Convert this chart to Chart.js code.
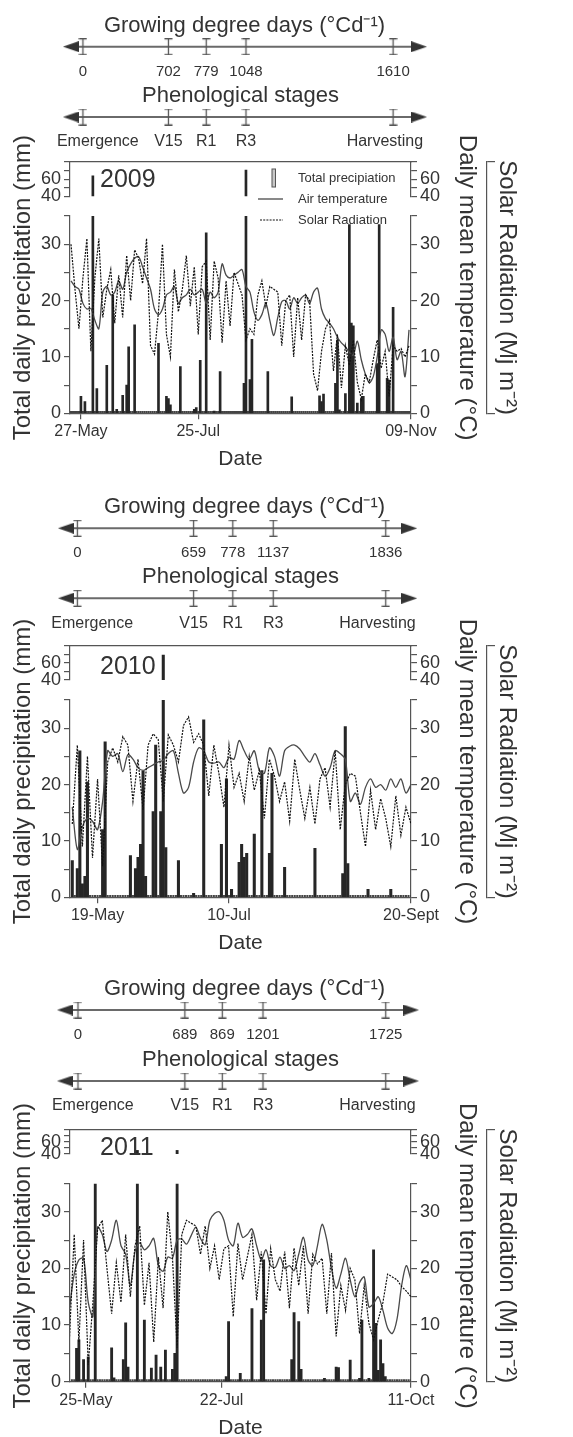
<!DOCTYPE html>
<html>
<head>
<meta charset="utf-8">
<title>Weather and phenology 2009-2011</title>
<script src="https://cdn.jsdelivr.net/npm/chart.js@4.4.1/dist/chart.umd.min.js"></script>
<style>
  html, body { margin: 0; padding: 0; background: #fff; }
  #page { position: relative; width: 573px; height: 1437px; overflow: hidden; background: #fff; }
  #page canvas { position: absolute; left: 0; }
</style>
</head>
<body>
<div id="page"></div>
<script>
// ---- shared text
const stageNames = ['Emergence', 'V15', 'R1', 'R3', 'Harvesting'];
const seriesNames = ['Total precipiation', 'Air temperature', 'Solar Radiation'];

// ---- 2009 (x values are day of year)
const dateTicks2009 = [147, 206, 313];
const dateLabels2009 = ['27-May', '25-Jul', '09-Nov'];
const gdd2009 = [0, 702, 779, 1048, 1610];
const stageDays2009 = [148, 191, 210, 230, 304];
const lineStart2009 = 142; // temperature / radiation read every 2nd day
const temp2009 = [23.5, 22.5, 22, 19.5, 18.5, 18.6, 16.5, 15, 21.5, 22.5,
  21, 21.5, 23.5, 22, 25, 26.5, 27.5, 27.8, 26, 24,
  22, 18.5, 17.5, 18.5, 21, 21.5, 22.5, 19.5, 20.5, 21,
  22, 21, 21.5, 22, 19.5, 21.5, 20.5, 21.5, 26.5, 24.5,
  24, 24.5, 25, 25.5, 22.5, 21.5, 18, 16.5, 17.5, 19.5,
  16.5, 13.8, 17, 19.8, 20, 18.5, 20.5, 19.5, 20.5, 21,
  19.5, 21.5, 22.2, 18.5, 16.8, 16, 15, 13.5, 12.5, 11.8,
  10.8, 10.3, 12.8, 9.5, 7, 5.4, 6.5, 10, 14.8, 14,
  11, 13.5, 9.5, 11, 6.5, 14.8];
const solar2009 = [30, 22, 15, 24, 31, 11, 24, 31, 17, 22,
  25.5, 16, 24.5, 17, 28, 20, 29, 27.5, 23, 31,
  12, 10.5, 18, 30, 14, 10, 25.5, 18, 22, 28,
  19, 26, 14, 26, 27, 13, 27, 24, 12.5, 23.5,
  15.5, 25, 23, 21, 13, 15, 14, 21, 23.5, 19,
  22.5, 22, 21.5, 12, 20, 21, 10, 20.5, 13, 21,
  20, 7, 4, 11, 15, 16.5, 7.5, 14, 4.5, 12,
  8.5, 13, 5.5, 2.5, 7, 5.5, 9.5, 13, 8, 11,
  3, 12, 11, 11.5, 10, 12];
const rainDays2009 = [147, 149, 153, 155, 160, 163, 165, 168, 170, 171, 174, 186, 190, 191, 192,
  197, 204, 205, 207, 210, 214, 217, 229, 230, 232, 233, 241, 253, 267, 268, 269, 275, 276, 277,
  280, 282, 283, 284, 286, 288, 289, 296, 297, 301, 302, 304];
const rainMm2009 = [3, 2.1, 64, 4.4, 8.5, 21, 0.7, 3.2, 5, 11.8, 15.7, 12.4, 3, 2.6, 1.5,
  8.3, 0.7, 1, 9.4, 32, 0.4, 7.4, 5.3, 70.7, 6, 13.1, 7.4, 2.9, 3.1, 2.1, 3.4, 5.3, 13, 0.6,
  3.5, 33.5, 16, 15.5, 1.8, 2.6, 3, 8.8, 33.5, 6.2, 5.9, 18.8];

// ---- 2010
const dateTicks2010 = [139, 191, 263];
const dateLabels2010 = ['19-May', '10-Jul', '20-Sept'];
const gdd2010 = [0, 659, 778, 1137, 1836];
const stageDays2010 = [131, 177, 192.5, 208.5, 253];
const lineStart2010 = 129;
const temp2010 = [16, 8.5, 12.5, 14, 13.5, 12, 17, 26, 25, 25.5,
  22.3, 25.3, 24.5, 23, 22.5, 23, 23.5, 24, 24.3, 25.5,
  26, 22, 18.5, 19.5, 24, 26.5, 26, 24, 23.8, 24,
  23, 24.8, 24.5, 27.8, 26, 24.5, 26, 22.5, 22, 26.5,
  25, 21.5, 26, 26.8, 27, 26.3, 25, 24, 25.5, 23.5,
  21.5, 23, 26, 25.5, 24.5, 17, 18.5, 16.5, 19.5, 21,
  19.5, 20, 19, 21, 19.5, 21, 18.5, 20];
const solar2010 = [13, 27, 9, 25, 7, 21, 5.5, 24, 26.5, 24,
  28.5, 27, 17, 24.5, 15.5, 27, 29, 28, 17, 28.8,
  27, 24, 30.5, 32, 27.5, 29, 27, 18, 27, 22,
  16, 27, 19.5, 22, 17, 25, 19, 22.5, 14, 24.5,
  21.5, 17, 20.5, 13.5, 24.5, 19, 14, 19.5, 13, 21,
  23, 16, 26, 12, 20, 22, 21.5, 15, 9, 19,
  12, 17.5, 14, 9, 18, 11, 16, 13];
const rainDays2010 = [129, 131, 132, 133, 134, 135, 141, 142, 152, 154, 155, 156, 157, 158, 161,
  162, 164, 165, 166, 171, 177, 181, 188, 190, 192, 195, 196, 197, 198, 201, 204, 207, 208, 213,
  225, 236, 237, 238, 246, 255];
const rainMm2010 = [6.5, 5.1, 26, 2.4, 3.7, 20.5, 12, 27.6, 7.4, 5.1, 7.1, 9.4, 22.4, 3.7, 15.2,
  27, 15.2, 69, 8.8, 6.5, 0.7, 31.5, 9.4, 21, 1.4, 6.2, 9.4, 7.1, 7.8, 11.2, 22.5, 7.8, 22, 5.3,
  8.7, 4.2, 30.3, 6, 1.4, 1.4];

// ---- 2011
const dateTicks2011 = [145, 203, 284];
const dateLabels2011 = ['25-May', '22-Jul', '11-Oct'];
const gdd2011 = [0, 689, 869, 1201, 1725];
const stageDays2011 = [141.6, 187.3, 203.3, 220.7, 273.2];
const lineStart2011 = 138;
const temp2011 = [13, 19, 21.5, 21.8, 14, 11.5, 27.3, 26, 23, 25,
  28.5, 24, 22.5, 17, 23, 24.5, 23.3, 24, 25.3, 20.5,
  19.5, 22, 21.8, 25, 25.2, 24.3, 25.8, 27.3, 25.3, 24.2,
  28.5, 29.7, 30, 28.5, 25, 24, 28, 25.5, 26, 27,
  24, 21.5, 23.3, 20.5, 20.2, 22, 20, 20.5, 19.6, 22.5,
  25.5, 21.5, 20.5, 24, 27.8, 25, 20, 16.5, 19, 21.8,
  18, 15, 17.5, 18.5, 13.2, 13.8, 15, 12.6, 9.5, 8.5,
  11, 17, 20.5, 17.9];
const solar2011 = [8, 26, 7, 25, 3, 14, 27, 28.5, 20, 12,
  21, 14, 26, 15, 24, 27.5, 13.5, 21, 7, 22,
  13, 30, 22, 6, 26, 28.5, 28, 27.5, 22.5, 27.5,
  20, 24, 18, 23.5, 24, 11.5, 24.4, 18, 22, 26,
  14.4, 23, 12, 23.5, 18, 16, 23, 13, 23.6, 17,
  24, 12, 22.5, 20.8, 21.8, 12, 22.7, 8, 17, 12.6,
  20, 18, 8.5, 17, 10.3, 7.4, 11, 14, 19, 18.5,
  18, 16.8, 16, 15];
const rainDays2011 = [141, 142, 144, 146, 149, 156, 157, 161, 162, 163, 167, 170, 173, 175, 177,
  179, 182, 183, 184, 205, 206, 211, 216, 220, 221, 233, 234, 236, 237, 247, 252, 253, 258, 262,
  263, 266, 268, 269, 270, 271, 272, 273];
const rainMm2011 = [5.9, 7.4, 3.9, 4.4, 37, 6, 0.7, 3.9, 10.4, 2.6, 46, 10.9, 2.4, 4.7, 2.6,
  5.6, 2.2, 5, 46, 0.9, 10.6, 1.5, 12.9, 10.9, 21.5, 3.9, 12.2, 10.6, 2.2, 0.6, 2.6, 2.5, 3.8, 0.6,
  10.9, 0.6, 23.3, 10.3, 2, 7.4, 3.2, 0.9];

// ---------------------------------------------------------------------------
const FONT = "'Liberation Sans', Arial, Helvetica, sans-serif";
const INK = '#333';
const AXIS = '#555';
const PAGE_W = 573;
const X_AXIS_H = 62;
const HEAD = 45; // room above the box for the long rotated titles

Chart.defaults.font.family = FONT;
Chart.defaults.color = INK;
Chart.defaults.animation = false;
Chart.defaults.plugins.legend.display = false;
Chart.defaults.plugins.tooltip.enabled = false;

const panels = [
  {year: '2009', xMin: 141.5, xMax: 313, dateTicks: dateTicks2009, dateLabels: dateLabels2009,
    gdd: gdd2009, stageDays: stageDays2009, lineStart: lineStart2009, temp: temp2009, solar: solar2009,
    rainDays: rainDays2009, rainMm: rainMm2009, arrows: [142, 317],
    gddLine: 46.7, phenoLine: 117, boxTop: 162, secBottom: 196.5, mainTop: 216, zero: 413.3,
    barW: 2, yearDy: 1, legend: true},
  {year: '2010', xMin: 128.1, xMax: 263, dateTicks: dateTicks2010, dateLabels: dateLabels2010,
    gdd: gdd2010, stageDays: stageDays2010, lineStart: lineStart2010, temp: temp2010, solar: solar2010,
    rainDays: rainDays2010, rainMm: rainMm2010, arrows: [126.5, 262.3],
    gddLine: 528.3, phenoLine: 598.3, boxTop: 645.7, secBottom: 680, mainTop: 700, zero: 897.3,
    barW: 2.4, yearDy: 4, legend: false},
  {year: '2011', xMin: 138.2, xMax: 284, dateTicks: dateTicks2011, dateLabels: dateLabels2011,
    gdd: gdd2011, stageDays: stageDays2011, lineStart: lineStart2011, temp: temp2011, solar: solar2011,
    rainDays: rainDays2011, rainMm: rainMm2011, arrows: [136.1, 284],
    gddLine: 1010, phenoLine: 1081, boxTop: 1130, secBottom: 1154, mainTop: 1183.5, zero: 1381.7,
    barW: 2.2, yearDy: 6, legend: false}
];

function everyOtherDay(start, values) {
  return values.map((v, i) => ({x: start + 2 * i, y: v}));
}

function rainSeries(lo, hi, days, mm) {
  const wet = days.map((d, i) => ({x: d, y: mm[i]}));
  const dry = [];
  for (let d = Math.ceil(lo); d <= Math.floor(hi); d++) {
    if (!days.includes(d)) dry.push({x: d, y: 0});
  }
  return {wet, dry};
}

function addCanvas(top, height) {
  const cv = document.createElement('canvas');
  cv.width = PAGE_W;
  cv.height = height;
  cv.style.top = top + 'px';
  cv.style.width = PAGE_W + 'px';
  cv.style.height = height + 'px';
  document.getElementById('page').appendChild(cv);
  return cv;
}

function tickAxis(side, stack, weight, stackWeight, min, max, labelled, width) {
  return {
    type: 'linear', axis: 'y', position: side, stack: stack, weight: weight, stackWeight: stackWeight,
    min: min, max: max,
    ticks: {
      stepSize: max > 40 ? 10 : 5, autoSkip: false, font: {size: 18}, color: INK, padding: 3,
      callback: v => (labelled.includes(v) ? String(v) : '')
    },
    grid: {display: true, drawOnChartArea: false, drawTicks: true, tickLength: 6, color: AXIS, lineWidth: 1.2},
    border: {display: true, color: AXIS, width: 1.2},
    afterFit: s => { s.width = width; }
  };
}

function blankAxis(side, stack, weight, stackWeight, width, title, pad) {
  const o = {
    type: 'linear', axis: 'y', position: side, weight: weight, min: 0, max: 1,
    ticks: {display: false}, grid: {display: false, drawTicks: false}, border: {display: false},
    afterFit: s => { s.width = width; }
  };
  if (stack) {
    o.stack = stack;
    o.stackWeight = stackWeight;
  }
  if (title) {
    o.title = {display: true, text: title, font: {size: 24}, color: INK, padding: {top: pad, bottom: 0}};
  }
  return o;
}

// clip each dataset to the band of its own y axis (broken axis)
const sectionClip = {
  id: 'sectionClip',
  beforeDatasetDraw(chart, args) {
    const ds = chart.data.datasets[args.index];
    const s = chart.scales[ds.yAxisID];
    const a = chart.chartArea;
    const extra = ds.yAxisID === 'yTop' ? 0 : 2;
    chart.ctx.save();
    chart.ctx.beginPath();
    chart.ctx.rect(a.left - 2, s.top, a.right - a.left + 4, s.bottom - s.top + extra);
    chart.ctx.clip();
  },
  afterDatasetDraw(chart) {
    chart.ctx.restore();
  }
};

function buildMain(p) {
  const canvasTop = Math.round(p.boxTop - HEAD);
  const height = Math.round(p.zero - canvasTop + X_AXIS_H + 6);
  const cv = addCanvas(canvasTop, height);
  const rain = rainSeries(p.xMin, p.xMax, p.rainDays, p.rainMm);
  const wTop = p.secBottom - p.boxTop;
  const wGap = p.mainTop - p.secBottom;
  const wMain = p.zero - p.mainTop;

  const yearLabel = {
    id: 'yearLabel',
    afterDatasetsDraw(chart) {
      const {ctx, chartArea: a} = chart;
      const s = chart.scales.yTop;
      ctx.save();
      ctx.font = '25px ' + FONT;
      ctx.fillStyle = INK;
      ctx.textAlign = 'left';
      ctx.textBaseline = 'middle';
      ctx.fillText(p.year, a.left + 30, (s.top + s.bottom) / 2 + p.yearDy);
      ctx.restore();
    }
  };

  const insideLegend = {
    id: 'insideLegend',
    beforeDatasetsDraw(chart) {
      if (!p.legend) return;
      const {ctx, chartArea: a} = chart;
      const tx = a.right - 113;
      const rows = [a.top + 16, a.top + 37, a.top + 58];
      ctx.save();
      ctx.fillStyle = '#c8c8c8';
      ctx.strokeStyle = '#555';
      ctx.lineWidth = 1;
      ctx.fillRect(tx - 26, rows[0] - 9, 3.5, 18);
      ctx.strokeRect(tx - 26, rows[0] - 9, 3.5, 18);
      ctx.strokeStyle = '#4a4a4a';
      ctx.lineWidth = 1.3;
      ctx.beginPath();
      ctx.moveTo(tx - 40, rows[1]);
      ctx.lineTo(tx - 15, rows[1]);
      ctx.stroke();
      ctx.strokeStyle = '#111';
      ctx.lineWidth = 1.2;
      ctx.setLineDash([2, 1.2]);
      ctx.beginPath();
      ctx.moveTo(tx - 38, rows[2]);
      ctx.lineTo(tx - 15, rows[2]);
      ctx.stroke();
      ctx.setLineDash([]);
      ctx.font = '13px ' + FONT;
      ctx.fillStyle = INK;
      ctx.textAlign = 'left';
      ctx.textBaseline = 'middle';
      seriesNames.forEach((t, i) => ctx.fillText(t, tx, rows[i]));
      ctx.restore();
    }
  };

  return new Chart(cv, {
    type: 'line',
    data: {
      datasets: [
        {type: 'bar', label: seriesNames[0], data: rain.wet, xAxisID: 'x', yAxisID: 'y',
          backgroundColor: '#262626', barThickness: p.barW, grouped: false, order: 4},
        {type: 'bar', label: seriesNames[0], data: rain.wet, xAxisID: 'x', yAxisID: 'yTop',
          backgroundColor: '#262626', barThickness: p.barW, grouped: false, order: 4},
        {type: 'bar', label: 'no rain', data: rain.dry, xAxisID: 'x', yAxisID: 'y',
          backgroundColor: '#444', barThickness: 1.4, minBarLength: 2, grouped: false, order: 5},
        {type: 'line', label: seriesNames[1], data: everyOtherDay(p.lineStart, p.temp), xAxisID: 'x', yAxisID: 'yR',
          borderColor: '#4a4a4a', borderWidth: 1.3, pointRadius: 0, tension: 0.3, order: 2},
        {type: 'line', label: seriesNames[2], data: everyOtherDay(p.lineStart, p.solar), xAxisID: 'x', yAxisID: 'yR',
          borderColor: '#111', borderWidth: 1.2, borderDash: [2, 1.2], pointRadius: 0, tension: 0, order: 1}
      ]
    },
    options: {
      responsive: false,
      animation: false,
      events: [],
      layout: {padding: {top: p.boxTop - canvasTop, left: 0, right: 43, bottom: height - (p.zero - canvasTop) - X_AXIS_H}},
      scales: {
        x: {
          type: 'linear', axis: 'x', position: 'bottom', min: p.xMin, max: p.xMax, offset: false,
          afterBuildTicks: s => { s.ticks = p.dateTicks.map(v => ({value: v})); },
          ticks: {autoSkip: false, maxRotation: 0, font: {size: 16}, color: INK, padding: 3,
            callback: v => p.dateLabels[p.dateTicks.indexOf(v)] || ''},
          grid: {display: true, drawOnChartArea: false, drawTicks: true, tickLength: 6, color: AXIS, lineWidth: 1.2, offset: false},
          border: {display: true, color: AXIS, width: 1.2},
          title: {display: true, text: 'Date', font: {size: 21}, color: INK, padding: {top: 0, bottom: 3}},
          afterFit: s => { s.height = X_AXIS_H; }
        },
        xTop: {
          type: 'linear', axis: 'x', position: 'top', min: p.xMin, max: p.xMax, offset: false,
          ticks: {display: false}, grid: {display: false, drawTicks: false},
          border: {display: true, color: AXIS, width: 1.2},
          afterFit: s => { s.height = 0; }
        },
        yT: blankAxis('left', null, 10, 0, 36, 'Total daily precipitation (mm)', 8.6),
        yTop: tickAxis('left', 'L', 3, wTop, 40, 80, [40, 60], 34),
        yGap: blankAxis('left', 'L', 2, wGap, 34),
        y: tickAxis('left', 'L', 1, wMain, 0, 35, [0, 10, 20, 30], 34),
        yRTop: tickAxis('right', 'R', 1, wTop, 40, 80, [40, 60], 40),
        yRGap: blankAxis('right', 'R', 2, wGap, 40),
        yR: tickAxis('right', 'R', 3, wMain, 0, 35, [0, 10, 20, 30], 40),
        yRT: blankAxis('right', null, 10, 0, 36, 'Daily mean temperature (\u00B0C)', 6),
        ySolar: {
          type: 'linear', axis: 'y', position: 'right', weight: 11, min: 0, max: 1,
          afterBuildTicks: s => { s.ticks = [{value: 0}, {value: 1}]; },
          ticks: {display: false},
          grid: {display: true, drawOnChartArea: false, drawTicks: true, tickLength: 8, color: AXIS, lineWidth: 1.2},
          border: {display: true, color: AXIS, width: 1.2},
          title: {display: true, text: 'Solar Radiation (Mj m\u207B\u00B2)', font: {size: 24}, color: INK,
            padding: {top: 8.6, bottom: 0}},
          afterFit: s => { s.width = 43; }
        }
      }
    },
    plugins: [sectionClip, insideLegend, yearLabel]
  });
}

function makeIbeam() {
  const c = document.createElement('canvas');
  c.width = 9;
  c.height = 17;
  const g = c.getContext('2d');
  g.strokeStyle = '#555';
  g.lineWidth = 1.3;
  g.beginPath();
  g.moveTo(4.5, 0.7); g.lineTo(4.5, 16.3);
  g.moveTo(0.5, 0.7); g.lineTo(8.5, 0.7);
  g.moveTo(0.5, 16.3); g.lineTo(8.5, 16.3);
  g.stroke();
  return c;
}

function makeArrow() {
  const c = document.createElement('canvas');
  c.width = 16;
  c.height = 11;
  const g = c.getContext('2d');
  g.fillStyle = '#333';
  g.beginPath();
  g.moveTo(0, 0); g.lineTo(16, 5.5); g.lineTo(0, 11);
  g.closePath();
  g.fill();
  return c;
}

const IBEAM = makeIbeam();
const ARROW = makeArrow();

function buildTimeline(p, area) {
  const canvasTop = Math.round(p.gddLine - 47);
  const height = Math.round(p.phenoLine - canvasTop + 38);
  const cv = addCanvas(canvasTop, height);
  const ext = 30;
  const perDay = (area.right - area.left) / (p.xMax - p.xMin);

  const labels = {
    id: 'timelineText',
    afterDatasetsDraw(chart) {
      const {ctx, chartArea: a, scales: {x, y}} = chart;
      const gy = y.getPixelForValue(1);
      const py = y.getPixelForValue(0);
      const mid = (a.left + a.right) / 2;
      const last = p.stageDays.length - 1;
      ctx.save();
      ctx.fillStyle = INK;
      ctx.textBaseline = 'middle';
      ctx.textAlign = 'center';
      ctx.font = '22px ' + FONT;
      ctx.fillText('Growing degree days (\u00B0Cd\u207B\u00B9)', mid + 4, gy - 21);
      ctx.fillText('Phenological stages', mid, py - 21);
      ctx.font = '15px ' + FONT;
      p.stageDays.forEach((d, i) => ctx.fillText(String(p.gdd[i]), x.getPixelForValue(d), gy + 25));
      ctx.font = '16px ' + FONT;
      p.stageDays.forEach((d, i) => {
        const px = x.getPixelForValue(d);
        if (i === 0) {
          ctx.textAlign = 'left';
          ctx.fillText(stageNames[i], px - 26, py + 25);
        } else if (i === last) {
          ctx.textAlign = 'right';
          ctx.fillText(stageNames[i], px + 30, py + 25);
        } else {
          ctx.textAlign = 'center';
          ctx.fillText(stageNames[i], px, py + 25);
        }
      });
      ctx.restore();
    }
  };

  const axisLine = yv => ({
    type: 'line', data: [{x: p.arrows[0], y: yv}, {x: p.arrows[1], y: yv}],
    borderColor: '#6a6a6a', borderWidth: 2, pointStyle: ARROW, pointRadius: 8,
    pointRotation: [180, 0], clip: false, order: 2
  });
  const marks = yv => ({
    type: 'line', showLine: false, data: p.stageDays.map(d => ({x: d, y: yv})),
    pointStyle: IBEAM, pointRadius: 8, clip: false, order: 1
  });

  return new Chart(cv, {
    type: 'line',
    data: {datasets: [axisLine(1), axisLine(0), marks(1), marks(0)]},
    options: {
      responsive: false,
      animation: false,
      events: [],
      layout: {padding: {
        left: area.left - ext, right: PAGE_W - area.right - ext,
        top: p.gddLine - canvasTop, bottom: canvasTop + height - p.phenoLine
      }},
      scales: {
        x: {type: 'linear', display: false, min: p.xMin - ext / perDay, max: p.xMax + ext / perDay},
        y: {type: 'linear', display: false, min: 0, max: 1}
      }
    },
    plugins: [labels]
  });
}

panels.forEach(p => {
  const main = buildMain(p);
  buildTimeline(p, main.chartArea);
});
</script>
</body>
</html>
